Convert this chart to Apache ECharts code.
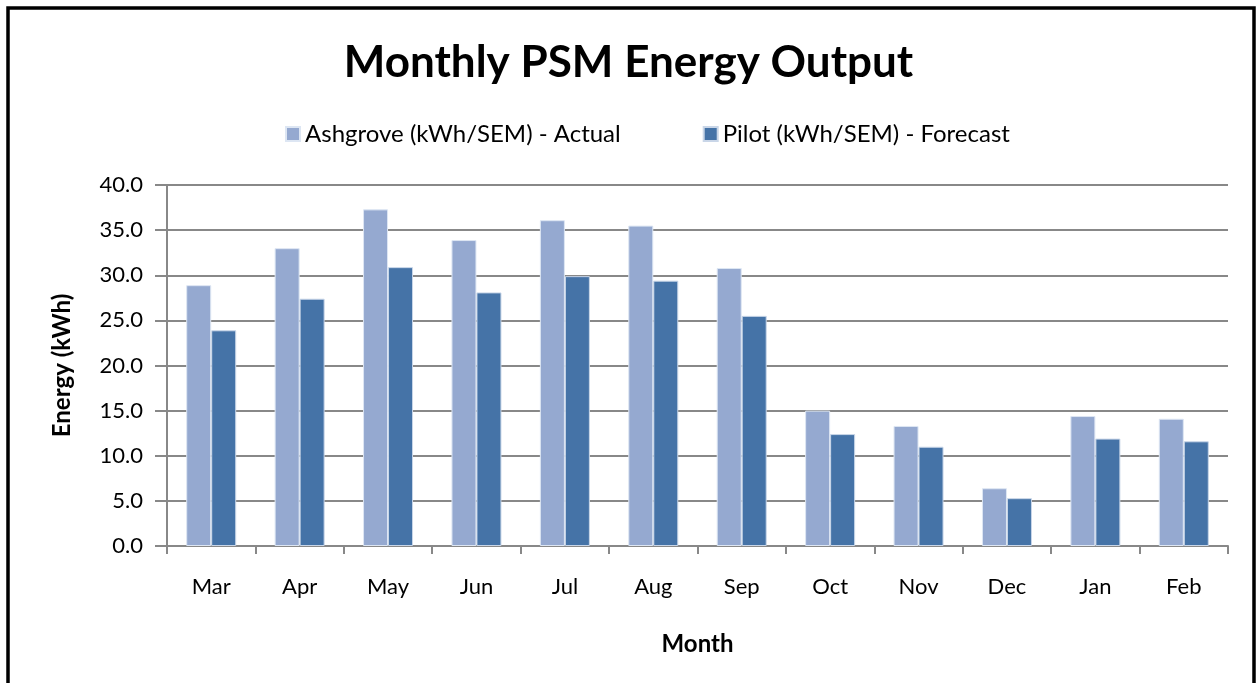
<!DOCTYPE html>
<html><head><meta charset="utf-8">
<script src="https://cdn.jsdelivr.net/npm/echarts@6/dist/echarts.min.js"></script>
<style>html,body{margin:0;padding:0;background:#fff;}#c{width:1257px;height:683px;}</style>
</head><body><div id="c"></div>
<script>
const months = ['Mar','Apr','May','Jun','Jul','Aug','Sep','Oct','Nov','Dec','Jan','Feb'];
const ashgrove = [28.9, 33.0, 37.3, 33.9, 36.1, 35.5, 30.8, 15.0, 13.3, 6.4, 14.4, 14.1];
const pilot = [23.9, 27.4, 30.9, 28.1, 29.9, 29.4, 25.5, 12.4, 11.0, 5.3, 11.9, 11.6];
const yTicks = {min: 0, max: 40, interval: 5};
const font = 'Lato, "Open Sans", sans-serif';
const chart = echarts.init(document.getElementById('c'), null, {renderer: 'canvas'});
chart.setOption({
  animation: false,
  backgroundColor: '#fff',
  textStyle: {fontFamily: font},
  graphic: [{type: 'rect', shape: {x: 8, y: 8, width: 1246, height: 720}, style: {fill: 'none', stroke: '#000', lineWidth: 3.5}, silent: true}],
  title: {text: 'Monthly PSM Energy Output', left: 'center', top: 36,
    textStyle: {fontSize: 44, fontWeight: 'bold', color: '#000', fontFamily: font}},
  legend: {top: 117, left: 280, itemWidth: 14, itemHeight: 14, itemGap: 82, icon: 'rect',
    textStyle: {fontSize: 24, color: '#000', fontFamily: font}},
  grid: {left: 167, right: 29, top: 185, bottom: 137, containLabel: false},
  xAxis: {type: 'category', data: months, name: 'Month', nameLocation: 'middle', nameGap: 86,
    nameTextStyle: {fontSize: 24, fontWeight: 'bold', color: '#000', fontFamily: font},
    axisLine: {lineStyle: {color: '#888', width: 2}},
    axisTick: {show: true, alignWithLabel: false, length: 8, lineStyle: {color: '#888', width: 2}},
    axisLabel: {fontSize: 22, color: '#000', margin: 30, fontFamily: font}},
  yAxis: {type: 'value', min: yTicks.min, max: yTicks.max, interval: yTicks.interval,
    name: 'Energy (kWh)', nameLocation: 'middle', nameGap: 93, nameRotate: 90,
    nameTextStyle: {fontSize: 24, fontWeight: 'bold', color: '#000', fontFamily: font},
    axisLine: {show: true, lineStyle: {color: '#888', width: 2}},
    axisTick: {show: true, length: 12, inside: false, lineStyle: {color: '#888', width: 2}},
    splitLine: {lineStyle: {color: '#888', width: 2}},
    axisLabel: {fontSize: 22, color: '#000', margin: 24, fontFamily: font, formatter: v => v.toFixed(1)}},
  series: [
    {name: 'Ashgrove (kWh/SEM) - Actual', type: 'bar', data: ashgrove, barWidth: 25, barGap: '0%',
      itemStyle: {color: '#95A9D0', borderColor: '#dde6f3', borderWidth: 1}},
    {name: 'Pilot (kWh/SEM) - Forecast', type: 'bar', data: pilot, barWidth: 25,
      itemStyle: {color: '#4573A7', borderColor: '#c9d6e8', borderWidth: 1}}
  ]
});
</script></body></html>
